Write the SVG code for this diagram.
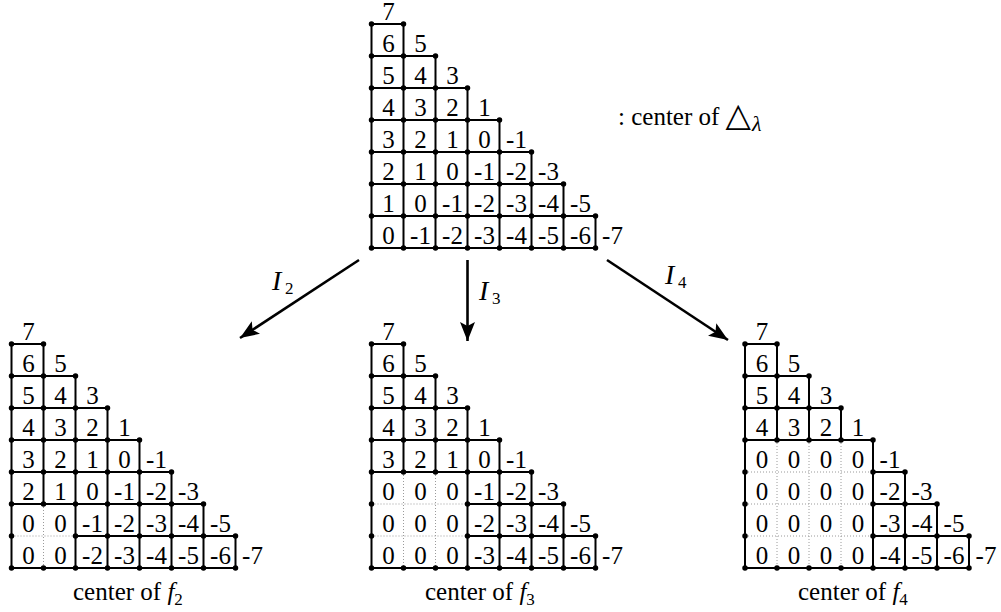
<svg xmlns="http://www.w3.org/2000/svg" width="1001" height="612" viewBox="0 0 1001 612">
<style>
.g{fill:none;stroke:#000;stroke-width:2;stroke-linecap:square}
.dt{fill:none;stroke:#9a9a9a;stroke-width:1;stroke-dasharray:1 2}
.dots{fill:none;stroke:#000;stroke-width:5.5;stroke-linecap:round}
text{font-family:'Liberation Serif','Times New Roman',serif;font-size:25px;fill:#000}
.n{text-anchor:middle}
.sub{font-size:17px;font-style:normal}
.mi{font-style:italic;font-size:28px}
.arr{fill:none;stroke:#000;stroke-width:2.6;marker-end:url(#ah)}
</style>
<defs>
<marker id="ah" markerUnits="userSpaceOnUse" viewBox="-20 -9 22 18" refX="0" refY="0" markerWidth="22" markerHeight="18" orient="auto">
<path d="M0,0 L-19,-7.5 L-15,0 L-19,7.5 Z" fill="#000"/>
</marker>
</defs>

<g id="top-triangle" transform="translate(371.5,24)">
<path class="g" d="M0,0H32 M0,32H64 M0,64H96 M0,96H128 M0,128H160 M0,160H192 M0,192H224 M0,224H224 M0,0V224 M32,0V224 M64,32V224 M96,64V224 M128,96V224 M160,128V224 M192,160V224 M224,192V224"/>
<path class="dots" d="M0,0h0M32,0h0 M0,32h0M32,32h0M64,32h0 M0,64h0M32,64h0M64,64h0M96,64h0 M0,96h0M32,96h0M64,96h0M96,96h0M128,96h0 M0,128h0M32,128h0M64,128h0M96,128h0M128,128h0M160,128h0 M0,160h0M32,160h0M64,160h0M96,160h0M128,160h0M160,160h0M192,160h0 M0,192h0M32,192h0M64,192h0M96,192h0M128,192h0M160,192h0M192,192h0M224,192h0 M0,224h0M32,224h0M64,224h0M96,224h0M128,224h0M160,224h0M192,224h0M224,224h0"/>
<text class="n" y="-4"><tspan x="17">7</tspan></text>
<text class="n" y="27.7"><tspan x="17">6</tspan><tspan x="49">5</tspan></text>
<text class="n" y="59.7"><tspan x="17">5</tspan><tspan x="49">4</tspan><tspan x="81">3</tspan></text>
<text class="n" y="91.7"><tspan x="17">4</tspan><tspan x="49">3</tspan><tspan x="81">2</tspan><tspan x="113">1</tspan></text>
<text class="n" y="123.7"><tspan x="17">3</tspan><tspan x="49">2</tspan><tspan x="81">1</tspan><tspan x="113">0</tspan><tspan x="145">-1</tspan></text>
<text class="n" y="155.7"><tspan x="17">2</tspan><tspan x="49">1</tspan><tspan x="81">0</tspan><tspan x="113">-1</tspan><tspan x="145">-2</tspan><tspan x="177">-3</tspan></text>
<text class="n" y="187.7"><tspan x="17">1</tspan><tspan x="49">0</tspan><tspan x="81">-1</tspan><tspan x="113">-2</tspan><tspan x="145">-3</tspan><tspan x="177">-4</tspan><tspan x="209">-5</tspan></text>
<text class="n" y="219.7"><tspan x="17">0</tspan><tspan x="49">-1</tspan><tspan x="81">-2</tspan><tspan x="113">-3</tspan><tspan x="145">-4</tspan><tspan x="177">-5</tspan><tspan x="209">-6</tspan><tspan x="241">-7</tspan></text>
</g>

<g id="legend">
<text x="618" y="125">: center of <tspan font-family="'DejaVu Sans',sans-serif" font-size="33" dy="1">△</tspan><tspan font-style="italic" font-size="22" x="752" dy="5">λ</tspan></text>
</g>

<g id="f2-triangle" transform="translate(11.5,344)">
<path class="g" d="M0,0H32 M0,32H64 M0,64H96 M0,96H128 M0,128H160 M0,160H192 M64,192H224 M0,224H224 M0,0V224 M32,0V160 M64,32V224 M96,64V224 M128,96V224 M160,128V224 M192,160V224 M224,192V224"/>
<path class="dt" d="M0,192H64 M32,160V224"/>
<path class="dots" d="M0,0h0M32,0h0 M0,32h0M32,32h0M64,32h0 M0,64h0M32,64h0M64,64h0M96,64h0 M0,96h0M32,96h0M64,96h0M96,96h0M128,96h0 M0,128h0M32,128h0M64,128h0M96,128h0M128,128h0M160,128h0 M0,160h0M32,160h0M64,160h0M96,160h0M128,160h0M160,160h0M192,160h0 M0,192h0M64,192h0M96,192h0M128,192h0M160,192h0M192,192h0M224,192h0 M0,224h0M32,224h0M64,224h0M96,224h0M128,224h0M160,224h0M192,224h0M224,224h0"/>
<text class="n" y="-4"><tspan x="17">7</tspan></text>
<text class="n" y="27.7"><tspan x="17">6</tspan><tspan x="49">5</tspan></text>
<text class="n" y="59.7"><tspan x="17">5</tspan><tspan x="49">4</tspan><tspan x="81">3</tspan></text>
<text class="n" y="91.7"><tspan x="17">4</tspan><tspan x="49">3</tspan><tspan x="81">2</tspan><tspan x="113">1</tspan></text>
<text class="n" y="123.7"><tspan x="17">3</tspan><tspan x="49">2</tspan><tspan x="81">1</tspan><tspan x="113">0</tspan><tspan x="145">-1</tspan></text>
<text class="n" y="155.7"><tspan x="17">2</tspan><tspan x="49">1</tspan><tspan x="81">0</tspan><tspan x="113">-1</tspan><tspan x="145">-2</tspan><tspan x="177">-3</tspan></text>
<text class="n" y="187.7"><tspan x="17">0</tspan><tspan x="49">0</tspan><tspan x="81">-1</tspan><tspan x="113">-2</tspan><tspan x="145">-3</tspan><tspan x="177">-4</tspan><tspan x="209">-5</tspan></text>
<text class="n" y="219.7"><tspan x="17">0</tspan><tspan x="49">0</tspan><tspan x="81">-2</tspan><tspan x="113">-3</tspan><tspan x="145">-4</tspan><tspan x="177">-5</tspan><tspan x="209">-6</tspan><tspan x="241">-7</tspan></text>
<text x="61.5" y="256">center of <tspan font-style="italic">f</tspan><tspan class="sub" dy="5">2</tspan></text>
</g>

<g id="f3-triangle" transform="translate(371.5,344)">
<path class="g" d="M0,0H32 M0,32H64 M0,64H96 M0,96H128 M0,128H160 M96,160H192 M96,192H224 M0,224H224 M0,0V224 M32,0V128 M64,32V128 M96,64V224 M128,96V224 M160,128V224 M192,160V224 M224,192V224"/>
<path class="dt" d="M0,160H96 M0,192H96 M32,128V224 M64,128V224"/>
<path class="dots" d="M0,0h0M32,0h0 M0,32h0M32,32h0M64,32h0 M0,64h0M32,64h0M64,64h0M96,64h0 M0,96h0M32,96h0M64,96h0M96,96h0M128,96h0 M0,128h0M32,128h0M64,128h0M96,128h0M128,128h0M160,128h0 M0,160h0M96,160h0M128,160h0M160,160h0M192,160h0 M0,192h0M96,192h0M128,192h0M160,192h0M192,192h0M224,192h0 M0,224h0M32,224h0M64,224h0M96,224h0M128,224h0M160,224h0M192,224h0M224,224h0"/>
<text class="n" y="-4"><tspan x="17">7</tspan></text>
<text class="n" y="27.7"><tspan x="17">6</tspan><tspan x="49">5</tspan></text>
<text class="n" y="59.7"><tspan x="17">5</tspan><tspan x="49">4</tspan><tspan x="81">3</tspan></text>
<text class="n" y="91.7"><tspan x="17">4</tspan><tspan x="49">3</tspan><tspan x="81">2</tspan><tspan x="113">1</tspan></text>
<text class="n" y="123.7"><tspan x="17">3</tspan><tspan x="49">2</tspan><tspan x="81">1</tspan><tspan x="113">0</tspan><tspan x="145">-1</tspan></text>
<text class="n" y="155.7"><tspan x="17">0</tspan><tspan x="49">0</tspan><tspan x="81">0</tspan><tspan x="113">-1</tspan><tspan x="145">-2</tspan><tspan x="177">-3</tspan></text>
<text class="n" y="187.7"><tspan x="17">0</tspan><tspan x="49">0</tspan><tspan x="81">0</tspan><tspan x="113">-2</tspan><tspan x="145">-3</tspan><tspan x="177">-4</tspan><tspan x="209">-5</tspan></text>
<text class="n" y="219.7"><tspan x="17">0</tspan><tspan x="49">0</tspan><tspan x="81">0</tspan><tspan x="113">-3</tspan><tspan x="145">-4</tspan><tspan x="177">-5</tspan><tspan x="209">-6</tspan><tspan x="241">-7</tspan></text>
<text x="53.5" y="256">center of <tspan font-style="italic">f</tspan><tspan class="sub" dy="5">3</tspan></text>
</g>

<g id="f4-triangle" transform="translate(745,344)">
<path class="g" d="M0,0H32 M0,32H64 M0,64H96 M0,96H128 M128,128H160 M128,160H192 M128,192H224 M0,224H224 M0,0V224 M32,0V96 M64,32V96 M96,64V96 M128,96V224 M160,128V224 M192,160V224 M224,192V224"/>
<path class="dt" d="M0,128H128 M0,160H128 M0,192H128 M32,96V224 M64,96V224 M96,96V224"/>
<path class="dots" d="M0,0h0M32,0h0 M0,32h0M32,32h0M64,32h0 M0,64h0M32,64h0M64,64h0M96,64h0 M0,96h0M32,96h0M64,96h0M96,96h0M128,96h0 M0,128h0M128,128h0M160,128h0 M0,160h0M128,160h0M160,160h0M192,160h0 M0,192h0M128,192h0M160,192h0M192,192h0M224,192h0 M0,224h0M32,224h0M64,224h0M96,224h0M128,224h0M160,224h0M192,224h0M224,224h0"/>
<text class="n" y="-4"><tspan x="17">7</tspan></text>
<text class="n" y="27.7"><tspan x="17">6</tspan><tspan x="49">5</tspan></text>
<text class="n" y="59.7"><tspan x="17">5</tspan><tspan x="49">4</tspan><tspan x="81">3</tspan></text>
<text class="n" y="91.7"><tspan x="17">4</tspan><tspan x="49">3</tspan><tspan x="81">2</tspan><tspan x="113">1</tspan></text>
<text class="n" y="123.7"><tspan x="17">0</tspan><tspan x="49">0</tspan><tspan x="81">0</tspan><tspan x="113">0</tspan><tspan x="145">-1</tspan></text>
<text class="n" y="155.7"><tspan x="17">0</tspan><tspan x="49">0</tspan><tspan x="81">0</tspan><tspan x="113">0</tspan><tspan x="145">-2</tspan><tspan x="177">-3</tspan></text>
<text class="n" y="187.7"><tspan x="17">0</tspan><tspan x="49">0</tspan><tspan x="81">0</tspan><tspan x="113">0</tspan><tspan x="145">-3</tspan><tspan x="177">-4</tspan><tspan x="209">-5</tspan></text>
<text class="n" y="219.7"><tspan x="17">0</tspan><tspan x="49">0</tspan><tspan x="81">0</tspan><tspan x="113">0</tspan><tspan x="145">-4</tspan><tspan x="177">-5</tspan><tspan x="209">-6</tspan><tspan x="241">-7</tspan></text>
<text x="53" y="256">center of <tspan font-style="italic">f</tspan><tspan class="sub" dy="5">4</tspan></text>
</g>

<g id="connectors">
<path class="arr" d="M359,260 L240,338"/>
<path class="arr" d="M467.5,260 L467.5,341"/>
<path class="arr" d="M607,260 L728,340"/>
<text class="mi" x="272" y="290">I<tspan class="sub" x="285" dy="3.5">2</tspan></text>
<text class="mi" x="479" y="300">I<tspan class="sub" x="492" dy="4">3</tspan></text>
<text class="mi" x="665" y="284">I<tspan class="sub" x="678" dy="4">4</tspan></text>
</g>
</svg>
